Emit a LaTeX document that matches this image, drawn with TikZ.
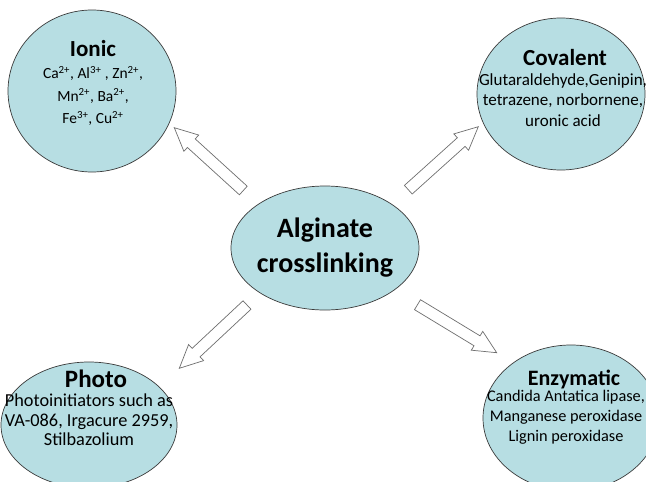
\documentclass[tikz,border=0pt]{standalone}
\usepackage{fontspec}
\setmainfont{Carlito}
\usetikzlibrary{shapes.geometric,calc}
\definecolor{bub}{HTML}{B7DEE3}
\definecolor{edgecol}{HTML}{3A3A3A}
\definecolor{arrcol}{HTML}{6E6E6E}
\newcommand\blockarrow[2]{%
  \coordinate (#1-n) at ($(#2)!23pt!(#1)$);
  \draw[blockarr] ($(#1)!5.8pt!90:(#2)$) -- ($(#1-n)!5.8pt!90:(#2)$) --
    ($(#1-n)!11pt!90:(#2)$) -- (#2) -- ($(#1-n)!11pt!-90:(#2)$) --
    ($(#1-n)!5.8pt!-90:(#2)$) -- ($(#1)!5.8pt!-90:(#2)$) -- cycle;}
\begin{document}
\begin{tikzpicture}[x=1pt,y=-1pt,
  bubble/.style={ellipse, draw=edgecol, fill=bub, line width=0.7pt, inner sep=0pt},
  blockarr/.style={draw=arrcol, fill=white, line width=0.7pt, line join=miter},
  ttl/.style={font=\fontsize{23}{26}\selectfont\bfseries, inner sep=0pt},
  bigttl/.style={font=\fontsize{28}{35}\selectfont\bfseries, align=center, inner sep=0pt},
  body/.style={align=center, inner sep=0pt}]
\useasboundingbox (0,0) rectangle (646,482);
\clip (0,0) rectangle (646,482);
\fill[white] (0,0) rectangle (646,482);
% bubbles
\node[bubble, minimum width=168pt, minimum height=162pt] (ionic) at (92,91) {};
\node[bubble, minimum width=168pt, minimum height=152pt] (covalent) at (561,94) {};
\node[bubble, minimum width=176pt, minimum height=126pt] (photo) at (89,425) {};
\node[bubble, minimum width=176pt, minimum height=146pt] (enzym) at (571,418) {};
\node[bubble, minimum width=188pt, minimum height=124pt] (centre) at (325,248) {};
% texts
\node[bigttl] (centreT) at (325,248) {Alginate\\crosslinking};
\node[ttl] (ionicT) at (93,49) {Ionic};
\node[body, font=\fontsize{15.5}{22.5}\selectfont] (ionicB) at (93,96) {Ca\textsuperscript{2+}, Al\textsuperscript{3+} , Zn\textsuperscript{2+},\\Mn\textsuperscript{2+}, Ba\textsuperscript{2+},\\Fe\textsuperscript{3+}, Cu\textsuperscript{2+}};
\node[ttl] (covalentT) at (565,58) {Covalent};
\node[body, font=\fontsize{17}{20.5}\selectfont] (covalentB) at (563,100) {Glutaraldehyde,Genipin,\\tetrazene, norbornene,\\uronic acid};
\node[ttl, font=\fontsize{25}{28}\selectfont\bfseries] (photoT) at (96,379) {Photo};
\node[body, font=\fontsize{18.3}{19.5}\selectfont] (photoB) at (89,420) {Photoinitiators such as\\VA-086, Irgacure 2959,\\Stilbazolium};
\node[ttl, font=\fontsize{22}{25}\selectfont\bfseries] (enzymT) at (574,379) {Enzymatic};
\node[body, font=\fontsize{16.3}{20}\selectfont] (enzymB) at (566,417) {Candida Antatica lipase,\\Manganese peroxidase\\Lignin peroxidase};
% arrows
\coordinate (a1t) at (243.3,190.5); \coordinate (a1h) at (174.3,127.7);
\coordinate (a2t) at (408.3,189.7); \coordinate (a2h) at (478.3,126.7);
\coordinate (a3t) at (247,305);     \coordinate (a3h) at (179.3,368.3);
\coordinate (a4t) at (417.5,304.7); \coordinate (a4h) at (496.7,352.7);
\blockarrow{a1t}{a1h}
\blockarrow{a2t}{a2h}
\blockarrow{a3t}{a3h}
\blockarrow{a4t}{a4h}
\end{tikzpicture}
\end{document}
